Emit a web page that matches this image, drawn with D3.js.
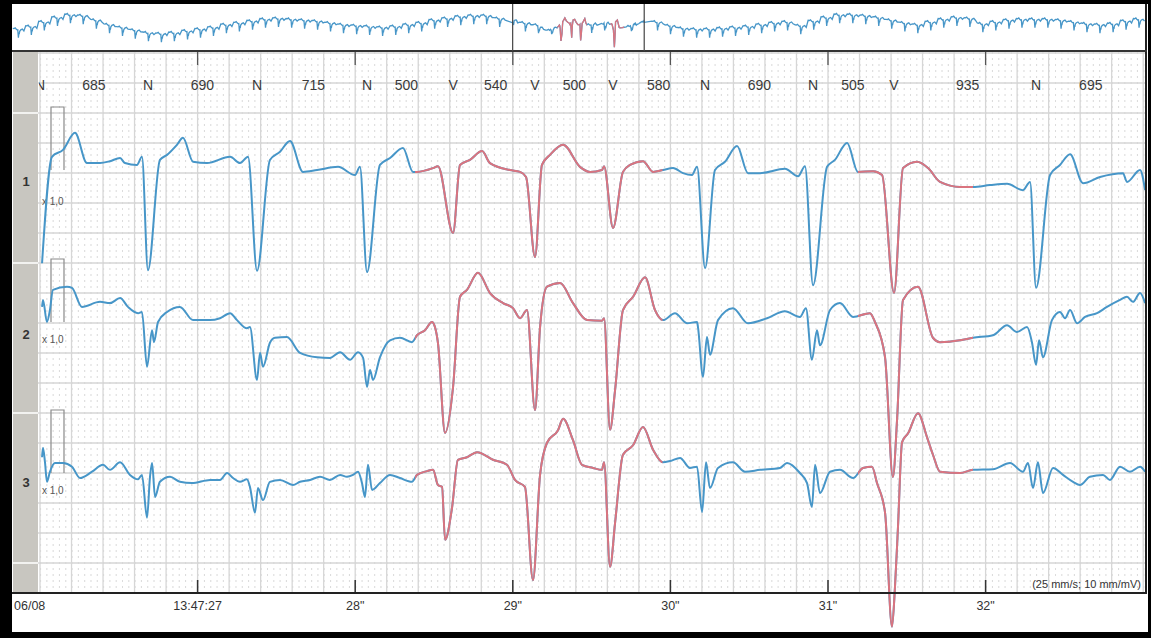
<!DOCTYPE html>
<html>
<head>
<meta charset="utf-8">
<script src="https://cdn.jsdelivr.net/npm/d3@7/dist/d3.min.js"></script>
<style>
  body { margin: 0; background: #000; }
  svg { display: block; font-family: "Liberation Sans", Arial, sans-serif; }
</style>
</head>
<body>
<svg id="chart" width="1151" height="638"></svg>
<script>
// ---- data (time in s, amplitude in mV) ----
var beatTimes = [26.00, 26.685, 27.377, 28.075, 28.621, 29.141, 29.636, 30.220, 30.905, 31.419, 32.320]
var beatTypes = ["N", "N", "N", "N", "V", "V", "V", "N", "N", "V", "N"]
var rrValues = [685, 690, 715, 500, 540, 500, 580, 690, 505, 935, 695]

// ventricular runs, drawn in red
var vWindows = [[28.38, 29.95], [31.19, 31.92]]

var secondTicks = [27, 28, 29, 30, 31, 32]
var secondLabels = ["13:47:27", "28\"", "29\"", "30\"", "31\"", "32\""]
var leadNames = ["1", "2", "3"]

var lead1 = [
  [26.013,-1.48],[26.076,0.21],[26.146,0.32],[26.222,0.59],[26.298,0.11],[26.381,0.11],[26.444,0.14],
  [26.508,0.19],[26.539,0.11],[26.615,0.08],[26.647,0.21],[26.685,-1.59],[26.761,0.16],[26.806,0.24],
  [26.869,0.40],[26.907,0.51],[26.971,0.13],[27.060,0.11],[27.206,0.21],[27.269,0.11],[27.320,0.21],
  [27.377,-1.60],[27.459,0.16],[27.523,0.29],[27.586,0.46],[27.669,-0.03],[27.758,0.00],[27.891,0.05],
  [27.999,-0.08],[28.030,0.05],[28.075,-1.62],[28.157,0.08],[28.221,0.19],[28.303,0.35],[28.367,-0.03],
  [28.392,-0.03],[28.494,0.03],[28.525,0.06],[28.621,-1.00],[28.665,0.08],[28.728,0.16],[28.805,0.30],
  [28.855,0.11],[28.982,0.00],[29.046,-0.03],[29.084,-0.11],[29.141,-1.38],[29.185,0.08],[29.236,0.24],
  [29.319,0.40],[29.426,0.05],[29.490,-0.03],[29.566,0.00],[29.579,0.06],[29.636,-0.92],[29.699,-0.03],
  [29.744,0.08],[29.826,0.14],[29.890,-0.03],[29.953,0.00],[30.017,0.03],[30.080,-0.05],[30.137,-0.08],
  [30.169,0.05],[30.220,-1.56],[30.283,0.00],[30.346,0.13],[30.423,0.38],[30.492,-0.05],[30.569,-0.05],
  [30.727,0.02],[30.810,-0.10],[30.854,0.06],[30.905,-1.83],[30.994,0.05],[31.044,0.16],[31.121,0.43],
  [31.190,-0.03],[31.286,-0.02],[31.343,-0.08],[31.419,-1.95],[31.476,0.03],[31.565,0.13],[31.635,0.03],
  [31.711,-0.19],[31.838,-0.27],[31.920,-0.27],[32.028,-0.24],[32.136,-0.22],[32.237,-0.32],[32.282,-0.19],
  [32.320,-1.87],[32.409,-0.08],[32.472,0.08],[32.536,0.25],[32.618,-0.21],[32.726,-0.11],[32.872,-0.05],
  [32.897,-0.19],[32.980,0.00],[33.012,-0.32]
]

var lead2 = [
  [26.013,0.24],[26.019,0.35],[26.044,0.00],[26.063,0.19],[26.082,0.51],[26.171,0.56],[26.203,0.54],
  [26.266,0.24],[26.381,0.32],[26.444,0.30],[26.508,0.38],[26.558,0.24],[26.622,0.14],[26.647,0.16],
  [26.679,-0.71],[26.711,-0.13],[26.723,-0.32],[26.749,0.00],[26.806,0.16],[26.888,0.24],[26.971,0.03],
  [27.079,0.03],[27.142,0.06],[27.206,0.14],[27.250,0.03],[27.313,-0.10],[27.332,-0.08],[27.377,-0.92],
  [27.396,-0.49],[27.415,-0.71],[27.459,-0.33],[27.491,-0.25],[27.567,-0.24],[27.650,-0.49],[27.758,-0.56],
  [27.840,-0.57],[27.904,-0.48],[27.967,-0.60],[28.018,-0.48],[28.050,-0.57],[28.075,-1.03],[28.094,-0.76],
  [28.113,-0.92],[28.157,-0.56],[28.221,-0.29],[28.284,-0.25],[28.360,-0.32],[28.392,-0.21],[28.443,-0.13],
  [28.487,0.00],[28.506,-0.08],[28.525,-0.33],[28.570,-1.76],[28.621,-1.03],[28.665,0.40],[28.709,0.51],
  [28.779,0.78],[28.855,0.46],[28.938,0.30],[29.001,0.22],[29.046,0.06],[29.090,0.19],[29.141,-1.40],
  [29.173,-0.08],[29.217,0.56],[29.300,0.62],[29.382,0.30],[29.471,0.03],[29.566,0.02],[29.579,0.06],
  [29.617,-1.71],[29.649,-1.08],[29.699,0.19],[29.763,0.40],[29.839,0.71],[29.902,0.19],[29.953,0.03],
  [30.029,0.14],[30.105,-0.02],[30.169,0.00],[30.175,-0.08],[30.207,-0.87],[30.232,-0.24],[30.251,-0.52],
  [30.302,0.03],[30.397,0.22],[30.492,-0.02],[30.613,0.06],[30.727,0.17],[30.822,0.08],[30.860,0.22],
  [30.898,-0.60],[30.930,-0.13],[30.949,-0.37],[31.013,0.19],[31.076,0.30],[31.159,0.08],[31.266,0.14],
  [31.298,0.00],[31.362,-0.56],[31.412,-2.46],[31.438,-1.56],[31.476,0.35],[31.571,0.56],[31.666,-0.25],
  [31.711,-0.32],[31.838,-0.29],[31.920,-0.25],[32.047,-0.21],[32.136,-0.05],[32.199,-0.16],[32.263,-0.08],
  [32.294,-0.32],[32.320,-0.68],[32.339,-0.29],[32.364,-0.56],[32.421,0.03],[32.472,0.16],[32.504,0.06],
  [32.536,0.19],[32.580,-0.02],[32.631,0.08],[32.707,0.14],[32.770,0.24],[32.853,0.35],[32.897,0.40],
  [32.935,0.32],[32.980,0.46],[33.012,0.30]
]

var lead3 = [
  [26.013,0.25],[26.019,0.40],[26.032,0.16],[26.044,-0.14],[26.063,0.02],[26.095,0.16],[26.146,0.16],
  [26.203,0.10],[26.254,-0.08],[26.330,0.02],[26.400,0.13],[26.444,0.05],[26.508,0.17],[26.571,-0.03],
  [26.622,-0.10],[26.647,-0.03],[26.679,-0.71],[26.698,-0.06],[26.711,0.16],[26.730,-0.38],[26.761,-0.14],
  [26.825,-0.06],[26.888,-0.14],[26.964,-0.16],[27.079,-0.11],[27.142,-0.11],[27.187,0.00],[27.225,-0.08],
  [27.269,-0.14],[27.313,-0.10],[27.332,-0.22],[27.364,-0.63],[27.383,-0.24],[27.415,-0.43],[27.459,-0.14],
  [27.523,-0.11],[27.605,-0.19],[27.650,-0.14],[27.713,-0.11],[27.777,-0.06],[27.840,-0.11],[27.904,-0.03],
  [27.948,-0.06],[27.986,-0.03],[28.018,0.02],[28.043,-0.16],[28.062,-0.38],[28.081,0.13],[28.107,-0.27],
  [28.157,-0.16],[28.221,-0.03],[28.284,-0.08],[28.360,-0.14],[28.392,-0.03],[28.456,0.03],[28.494,0.05],
  [28.525,-0.19],[28.551,-0.22],[28.570,-1.06],[28.614,-0.56],[28.652,0.21],[28.709,0.25],[28.773,0.33],
  [28.874,0.21],[28.963,0.13],[29.014,-0.11],[29.077,-0.22],[29.128,-1.70],[29.173,-0.03],[29.217,0.48],
  [29.287,0.68],[29.319,0.86],[29.382,0.52],[29.439,0.13],[29.509,0.08],[29.566,0.05],[29.579,0.17],
  [29.617,-1.49],[29.649,-0.79],[29.699,0.29],[29.763,0.44],[29.826,0.73],[29.890,0.37],[29.953,0.17],
  [29.998,0.19],[30.061,0.24],[30.124,0.08],[30.169,0.10],[30.201,-0.62],[30.226,0.17],[30.251,-0.24],
  [30.302,0.08],[30.397,0.17],[30.473,0.02],[30.569,0.05],[30.695,0.08],[30.740,0.16],[30.822,0.00],
  [30.867,-0.16],[30.898,-0.54],[30.918,0.13],[30.949,-0.32],[31.013,0.02],[31.076,0.05],[31.159,-0.08],
  [31.222,0.08],[31.279,0.10],[31.311,-0.16],[31.362,-0.63],[31.406,-2.44],[31.425,-1.81],[31.444,-0.86],
  [31.470,0.49],[31.508,0.63],[31.571,0.95],[31.628,0.57],[31.666,0.29],[31.711,0.02],[31.838,0.00],
  [31.920,0.05],[32.047,0.06],[32.155,0.16],[32.237,0.02],[32.269,0.16],[32.301,-0.24],[32.332,0.17],
  [32.364,-0.32],[32.428,0.08],[32.491,-0.03],[32.555,-0.14],[32.599,-0.19],[32.662,-0.06],[32.745,-0.03],
  [32.789,-0.11],[32.853,0.10],[32.916,0.02],[32.980,0.10],[33.012,0.02]
]

// overview (full disclosure) beats outside the printed strip: [time s, baseline mV]
var overviewBefore = [
  [-0.30,-0.7],[0.39,-0.4],[1.08,0.1],[1.78,0.6],[2.47,0.9],[3.15,0.8],[3.85,0.3],[4.55,-0.2],
  [5.24,-0.5],[5.92,-0.8],[6.62,-1.1],[7.31,-1.2],[8.00,-1.1],[8.70,-0.9],[9.39,-0.7],[10.08,-0.5],
  [10.77,-0.2],[11.46,0.0],[12.16,0.2],[12.85,0.4],[13.54,0.5],[14.24,0.4],[14.93,0.3],[15.62,0.2],
  [16.31,0.0],[17.00,-0.2],[17.70,-0.3],[18.39,-0.4],[19.08,-0.5],[19.78,-0.4],[20.47,-0.2],[21.16,0.0],
  [21.85,0.3],[22.54,0.5],[23.24,0.7],[23.93,0.8],[24.62,0.8],[25.31,0.5]
]
var overviewAfter = [
  [33.71,0.1],[34.40,-0.3],[35.09,-0.6],[35.79,-0.7],[36.48,-0.7],[37.17,-0.6],[37.86,-0.5],[38.56,-0.4],
  [39.25,-0.2],[39.94,0.0],[40.63,0.1],[41.33,-0.3],[42.02,0.2],[42.71,0.6],[43.40,0.9],[44.10,0.9],
  [44.79,0.8],[45.48,0.6],[46.17,0.3],[46.87,0.0],[47.56,-0.2],[48.25,0.1],[48.94,0.4],[49.64,0.6],
  [50.33,0.5],[51.02,-0.1],[51.71,0.1],[52.41,0.3],[53.10,0.4],[53.79,0.4],[54.48,0.4],[55.18,0.3],
  [55.87,0.1],[56.56,-0.1],[57.25,-0.2],[57.95,-0.1],[58.64,0.2],[59.33,0.4]
]

// ---- layout ----
var W = 1151, H = 638
var plotLeft = 38, plotRight = 1146, plotTop = 52, axisY = 593
var baselines = [170, 322, 473]
var pxPerMv = 63
var blue = "#4796c8", red = "#da747f"

var svg = d3.select("#chart")

/* frame */
svg.append("rect").attr("x", 12).attr("y", 4).attr("width", 1136).attr("height", 628).attr("fill", "#fff")

/* scales */
var x = d3.scaleLinear().domain([26, 33]).range([40, 1143.2])
var ox = d3.scaleLinear().domain([-0.64, 59.7]).range([12, 1146])
var oy = d3.scaleLinear().domain([0, 1]).range([25, 16])
var ys = baselines.map(function(b) { return d3.scaleLinear().domain([0, 1]).range([b, b - pxPerMv]) })

/* grid */
var grid = svg.append("g").attr("class", "grid")
var minorY = d3.range(plotTop + 1, axisY, 6)
grid.selectAll(".hdot").data(minorY).enter().append("line")
  .attr("x1", x(26)).attr("x2", plotRight)
  .attr("y1", function(d) { return d }).attr("y2", function(d) { return d })
  .attr("stroke", "#b9b9b9").attr("stroke-width", 1.1)
  .attr("stroke-dasharray", "1.1," + (x(26.04) - x(26) - 1.1))
var majorT = d3.range(26, 33.01, 0.2)
grid.selectAll(".vmaj").data(majorT).enter().append("line")
  .attr("x1", function(d) { return x(d) }).attr("x2", function(d) { return x(d) })
  .attr("y1", plotTop).attr("y2", axisY)
  .attr("stroke", "#d6d6d6").attr("stroke-width", 1.3)
var majorY = d3.range(53, axisY, 30)
grid.selectAll(".hmaj").data(majorY).enter().append("line")
  .attr("x1", plotLeft).attr("x2", plotRight)
  .attr("y1", function(d) { return d }).attr("y2", function(d) { return d })
  .attr("stroke", "#d6d6d6").attr("stroke-width", 1.3)

/* left gray column with lead numbers */
svg.append("rect").attr("x", 13).attr("y", plotTop).attr("width", plotLeft - 13).attr("height", axisY - plotTop)
  .attr("fill", "#c8c6c0")
;[113, 263, 413, 563].forEach(function(yy) {
  svg.append("line").attr("x1", 13).attr("x2", plotLeft).attr("y1", yy).attr("y2", yy)
    .attr("stroke", "#f2f2f0").attr("stroke-width", 2)
})
var labelY = [186, 339, 487]
var calTextY = [205, 343, 494]
leadNames.forEach(function(n, i) {
  svg.append("text").attr("x", 26).attr("y", labelY[i]).attr("text-anchor", "middle")
    .attr("font-size", 13).attr("font-weight", "bold").attr("fill", "#333").text(n)
  svg.append("text").attr("x", 42).attr("y", calTextY[i])
    .attr("font-size", 10).attr("fill", "#555").text("x 1,0")
  // 1 mV calibration pulse
  var y = ys[i]
  svg.append("path")
    .attr("d", "M51," + y(0) + "V" + y(1) + "H64V" + y(0))
    .attr("fill", "none").attr("stroke", "#8a8a8a").attr("stroke-width", 1.2)
})

/* traces */
var defs = svg.append("defs")
defs.append("clipPath").attr("id", "plotClip").append("rect")
  .attr("x", plotLeft + 1).attr("y", plotTop).attr("width", plotRight - plotLeft - 1).attr("height", 632 - plotTop)
var vClip = defs.append("clipPath").attr("id", "vClip")
vWindows.forEach(function(w) {
  vClip.append("rect").attr("x", x(w[0])).attr("y", 0).attr("width", x(w[1]) - x(w[0])).attr("height", H)
})
var ovClip = defs.append("clipPath").attr("id", "ovClip")
vWindows.forEach(function(w) {
  ovClip.append("rect").attr("x", ox(w[0])).attr("y", 0).attr("width", ox(w[1]) - ox(w[0])).attr("height", 60)
})

var traces = svg.append("g").attr("clip-path", "url(#plotClip)")
;[lead1, lead2, lead3].forEach(function(data, i) {
  var line = d3.line().curve(d3.curveMonotoneX)
    .x(function(d) { return x(d[0]) }).y(function(d) { return ys[i](d[1]) })
  traces.append("path").attr("d", line(data))
    .attr("fill", "none").attr("stroke", blue).attr("stroke-width", 2).attr("stroke-linejoin", "round")
  traces.append("g").attr("clip-path", "url(#vClip)").append("path").attr("d", line(data))
    .attr("fill", "none").attr("stroke", red).attr("stroke-width", 2).attr("stroke-linejoin", "round")
})

/* beat annotations */
var ann = svg.append("g").attr("font-size", 14).attr("fill", "#3a3a3a").attr("text-anchor", "middle")
  .attr("clip-path", "url(#plotClip)")
beatTimes.forEach(function(t, i) {
  ann.append("text").attr("x", x(t)).attr("y", 90).text(beatTypes[i])
  ann.append("text").attr("x", x(t + rrValues[i] / 2000)).attr("y", 90).text(rrValues[i])
})

/* second ticks top and bottom */
secondTicks.forEach(function(s, i) {
  svg.append("line").attr("x1", x(s)).attr("x2", x(s)).attr("y1", plotTop).attr("y2", plotTop + 13)
    .attr("stroke", "#555").attr("stroke-width", 1.3)
  svg.append("line").attr("x1", x(s)).attr("x2", x(s)).attr("y1", axisY - 13).attr("y2", axisY)
    .attr("stroke", "#333").attr("stroke-width", 1.5)
  svg.append("text").attr("x", x(s)).attr("y", 610).attr("text-anchor", "middle")
    .attr("font-size", 12.5).attr("fill", "#333").text(secondLabels[i])
})
svg.append("text").attr("x", 14).attr("y", 610).attr("font-size", 12.5).attr("fill", "#333").text("06/08")
svg.append("text").attr("x", 1141).attr("y", 588).attr("text-anchor", "end")
  .attr("font-size", 11).attr("fill", "#333").text("(25 mm/s; 10 mm/mV)")

/* axis line + right border */
svg.append("line").attr("x1", 12).attr("x2", plotRight + 1).attr("y1", axisY).attr("y2", axisY)
  .attr("stroke", "#222").attr("stroke-width", 2.2)
svg.append("line").attr("x1", plotRight).attr("x2", plotRight).attr("y1", 4).attr("y2", axisY)
  .attr("stroke", "#222").attr("stroke-width", 2)

/* overview strip (lead 2 compressed) */
var tmpl = lead2.filter(function(d) { return d[0] >= 26.38 && d[0] <= 27.06 })
  .map(function(d) { return [d[0] - 26.679, d[1]] })
var ovPts = []
overviewBefore.forEach(function(b) {
  tmpl.forEach(function(p) { ovPts.push([b[0] + p[0], b[1] + p[1]]) })
})
lead2.forEach(function(d) { ovPts.push([d[0], d[1]]) })
overviewAfter.forEach(function(b) {
  tmpl.forEach(function(p) { ovPts.push([b[0] + p[0], b[1] + p[1]]) })
})
var ovLine = d3.line().x(function(d) { return ox(d[0]) }).y(function(d) { return oy(d[1]) })
var ov = svg.append("g")
ov.append("path").attr("d", ovLine(ovPts)).attr("fill", "none").attr("stroke", blue).attr("stroke-width", 1.3)
ov.append("g").attr("clip-path", "url(#ovClip)").append("path").attr("d", ovLine(ovPts))
  .attr("fill", "none").attr("stroke", red).attr("stroke-width", 1.3)
svg.append("line").attr("x1", 12).attr("x2", plotRight + 1).attr("y1", 51).attr("y2", 51)
  .attr("stroke", "#333").attr("stroke-width", 2)
;[26, 33].forEach(function(t) {
  svg.append("line").attr("x1", ox(t)).attr("x2", ox(t)).attr("y1", 4).attr("y2", 51)
    .attr("stroke", "#444").attr("stroke-width", 1.2)
})
</script>
</body>
</html>
